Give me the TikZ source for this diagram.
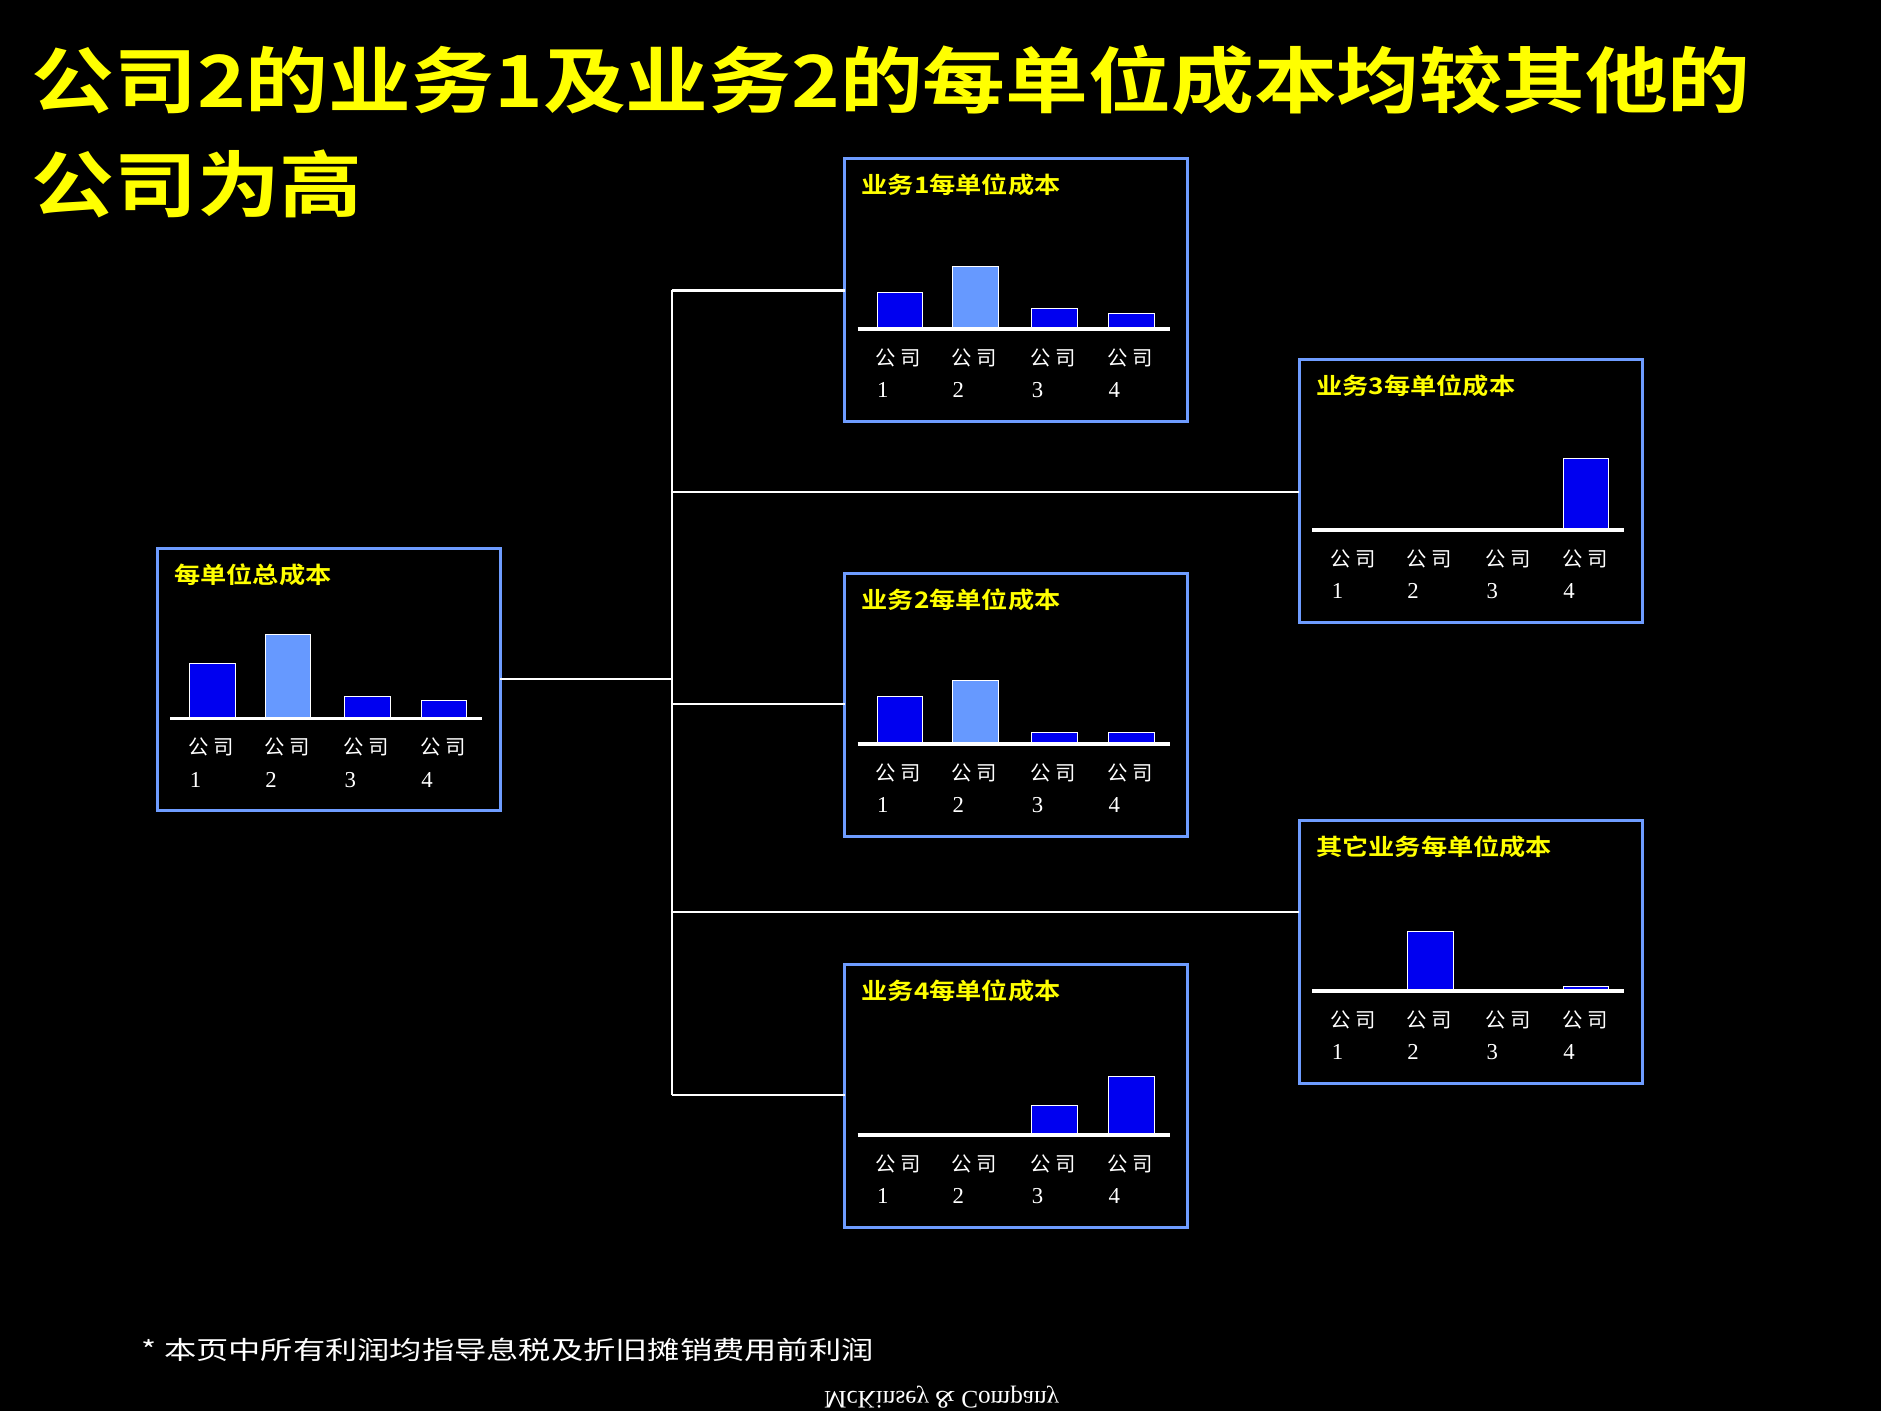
\documentclass[tikz,border=0pt]{standalone}
\usepackage{fontspec}
\newfontfamily\cjk{Noto Sans CJK SC}
\newfontfamily\cjkb{Noto Sans CJK SC Bold}
\setmainfont{Liberation Serif}
\definecolor{bblue}{HTML}{0000F0}
\definecolor{lblue}{HTML}{6699FF}
\definecolor{frame}{HTML}{6E9CFF}
\definecolor{ttl}{HTML}{FFFF00}
\tikzset{
 panel/.style={draw=frame,line width=2.5pt},
 ptitle/.style={anchor=west,text=ttl,font=\cjkb\fontsize{19}{22}\selectfont,inner sep=0,transform shape,xscale=1.15},
 lab/.style={anchor=west,text=white,font=\cjk\fontsize{17}{20}\selectfont,inner sep=0},
 num/.style={anchor=west,text=white,font=\fontsize{19}{22}\selectfont,inner sep=0},
 conn/.style={draw=white,line width=2pt},
 bar/.style={draw=white,line width=0.4pt},
 bigtitle/.style={anchor=west,text=ttl,font=\cjkb\fontsize{60}{64}\selectfont,inner sep=0,transform shape,xscale=1.15},
}
\newcommand\mypanel[7]{%
 \begin{scope}[shift={(#1,#2)}]
 \draw[panel] (0,0) rectangle (286,219);
 \node[ptitle] at (14,22) {#3};
 \foreach \bx/\bh/\bc [count=\i] in {27/#4,90/#5,156/#6,220/#7}{
   \ifdim\bh pt>0pt \fill[\bc,bar] (\bx,142) rectangle ++(38,-\bh);\fi
   \node[lab] at (\bx-1,166) {公 司};
   \node[num] at (\bx,193) {\i};
 }
 \draw[white,line width=3pt] (11,142) -- (271,142);
 \end{scope}}
\begin{document}
\begin{tikzpicture}[x=1pt,y=-1pt]
\fill[black] (0,0) rectangle (1568,1176);
\useasboundingbox (0,0) rectangle (1568,1176);
\node[bigtitle] (t1) at (26,67) {公司2的业务1及业务2的每单位成本均较其他的};
\node[bigtitle] (t2) at (26,153) {公司为高};
\mypanel{131}{457}{每单位总成本}{46/bblue}{70/lblue}{19/bblue}{15/bblue}
\mypanel{704}{132}{业务1每单位成本}{30/bblue}{52/lblue}{17/bblue}{13/bblue}
\mypanel{704}{478}{业务2每单位成本}{40/bblue}{53/lblue}{10/bblue}{10/bblue}
\mypanel{704}{804}{业务4每单位成本}{0/bblue}{0/bblue}{25/bblue}{49/bblue}
\mypanel{1083}{300}{业务3每单位成本}{0/bblue}{0/bblue}{0/bblue}{60/bblue}
\mypanel{1083}{684}{其它业务每单位成本}{0/bblue}{50/bblue}{0/bblue}{4/bblue}
\coordinate (j) at (560,566);
\draw[conn] (417,566) -- (j);
\draw[conn] (560,242) -- (560,913);
\draw[conn] (560,242) -- (704,242);
\draw[conn] (560,410) -- (1083,410);
\draw[conn] (560,587) -- (704,587);
\draw[conn] (560,760) -- (1083,760);
\draw[conn] (560,913) -- (704,913);
\node[anchor=west,text=white,font=\cjk\fontsize{21}{24}\selectfont,inner sep=0,transform shape,xscale=1.28] (fn) at (118,1125) {*\ 本页中所有利润均指导息税及折旧摊销费用前利润};
\node[text=white,font=\fontsize{21}{24}\selectfont,transform shape,yscale=-1,inner sep=0] (mck) at (785,1165) {McKinsey \& Company};
\end{tikzpicture}
\end{document}
